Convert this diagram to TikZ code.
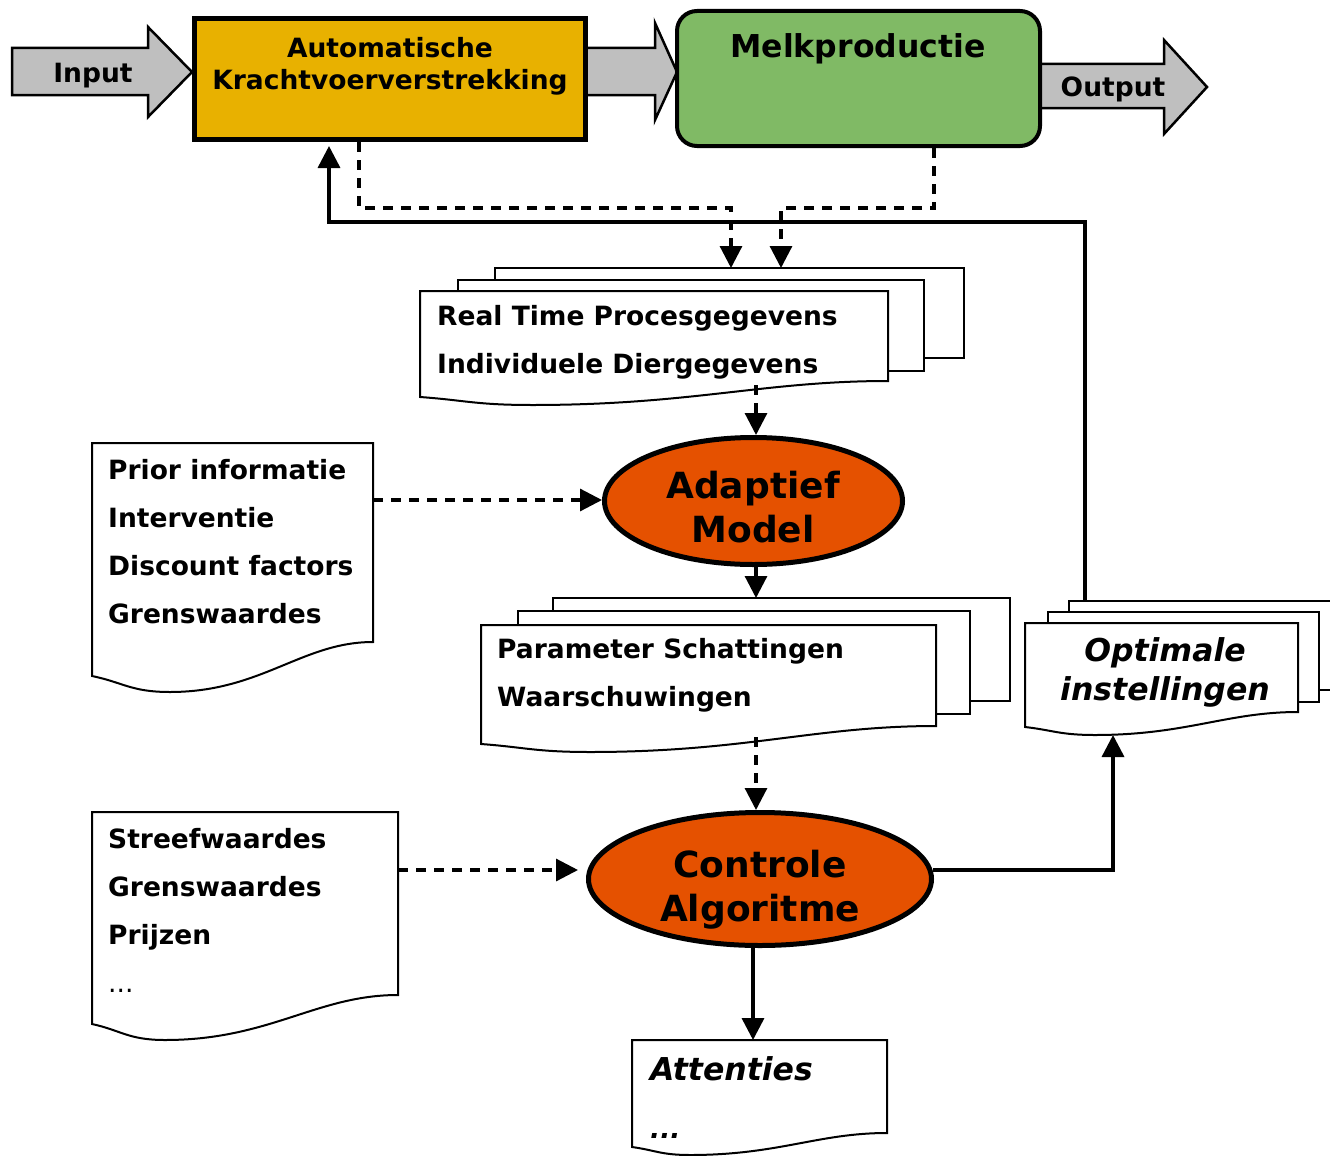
\documentclass[tikz,border=0pt]{standalone}
\usepackage{fontspec}
\setmainfont{DejaVu Sans}
\usetikzlibrary{arrows.meta,shapes.geometric,calc}
\definecolor{arrowgray}{HTML}{BFBFBF}
\definecolor{boxyellow}{HTML}{E8B100}
\definecolor{boxgreen}{HTML}{80BA65}
\definecolor{ellorange}{HTML}{E55100}
% x1 top x2 yl xm ym yr
\newcommand\docwave[7]{%
  \filldraw[docline] (#1,#2) -- (#3,#2) -- (#3,#7)
    .. controls ($(#3,#7)!0.35!(#5,#7)$) and ($(#5,#6)!0.45!(#3,#6)$) .. (#5,#6)
    .. controls ($(#5,#6)!0.5!(#1,#6)$) and ($(#1,#4)!0.4!(#5,#6)$) .. (#1,#4) -- cycle;}
\begin{document}
\begin{tikzpicture}[x=1pt,y=-1pt,
  docline/.style={draw=black, fill=white, line width=2pt},
  fatarrow/.style={draw=black, fill=arrowgray, line width=2.5pt, line join=miter},
  solidarrow/.style={line width=3.5pt, -{Triangle[length=22pt,width=22pt]}},
  dasharrow/.style={line width=3.2pt, dash pattern=on 10pt off 8pt, -{Triangle[length=22pt,width=22pt]}},
  body/.style={inner sep=0pt, font=\fontsize{26.5}{32}\selectfont\bfseries},
  mid/.style={inner sep=0pt, font=\fontsize{31.5}{38}\selectfont\bfseries},
  miditl/.style={inner sep=0pt, font=\fontsize{31.5}{38}\selectfont\bfseries\itshape},
  big/.style={inner sep=0pt, font=\fontsize{36}{44}\selectfont\bfseries},
  ell/.style={ellipse, draw=black, fill=ellorange, line width=5pt, inner sep=0pt}
]
\useasboundingbox[fill=white] (0,0) rectangle (1330,1156);

% fat arrows
\filldraw[fatarrow] (12,48) -- (148,48) -- (148,27) -- (192,72) -- (148,117) -- (148,95) -- (12,95) -- cycle;
\filldraw[fatarrow] (585,48) -- (655,48) -- (655,23) -- (677,72) -- (655,120) -- (655,95) -- (585,95) -- cycle;
\filldraw[fatarrow] (1038,64) -- (1164,64) -- (1164,40) -- (1207,87) -- (1164,134) -- (1164,108) -- (1038,108) -- cycle;

% boxes
\node[draw=black, fill=boxyellow, line width=5pt, minimum width=391pt, minimum height=121pt, inner sep=0pt] (ak) at (390,79) {};
\node[draw=black, fill=boxgreen, line width=4pt, rounded corners=20pt, minimum width=363pt, minimum height=135pt, inner sep=0pt] (mp) at (858.5,78.5) {};
\node[body, anchor=base] (tin) at (93,82) {Input};
\node[body, anchor=base] (tak1) at (390,57) {Automatische};
\node[body, anchor=base] (tak2) at (390,89) {Krachtvoerverstrekking};
\node[mid, anchor=base] (tmp) at (858,58) {Melkproductie};
\node[body, anchor=base] (tout) at (1113,96) {Output};

% document stack 1
\filldraw[docline] (495,268) rectangle (964,358);
\filldraw[docline] (458,280) rectangle (924,371);
\docwave{420}{291}{888}{397}{532}{405}{381}
\node[body, anchor=base west] (t11) at (437,325) {Real Time Procesgegevens};
\node[body, anchor=base west] (t12) at (437,373) {Individuele Diergegevens};
\coordinate (d1in1) at (731,268);
\coordinate (d1in2) at (781,268);
\coordinate (d1out) at (756,385);

% prior doc
\docwave{92}{443}{373}{676}{170}{692}{642}
\node[body, anchor=base west] (p1) at (108,479) {Prior informatie};
\node[body, anchor=base west] (p2) at (108,527) {Interventie};
\node[body, anchor=base west] (p3) at (108,575) {Discount factors};
\node[body, anchor=base west] (p4) at (108,623) {Grenswaardes};
\coordinate (prout) at (373,500);

% ellipse 1
\node[ell, minimum width=298pt, minimum height=127pt] (am) at (753.5,501) {};
\node[big, anchor=base] (ta1) at (753,498) {Adaptief};
\node[big, anchor=base] (ta2) at (753,542) {Model};

% document stack 2
\filldraw[docline] (553,598) rectangle (1010,701);
\filldraw[docline] (518,611) rectangle (970,714);
\docwave{481}{625}{936}{744}{590}{752}{726}
\node[body, anchor=base west] (t21) at (497,658) {Parameter Schattingen};
\node[body, anchor=base west] (t22) at (497,706) {Waarschuwingen};
\coordinate (d2in) at (756,598);
\coordinate (d2out) at (756,737);

% optimale stack
\filldraw[docline] (1069,601) rectangle (1345,690);
\filldraw[docline] (1048,612) rectangle (1319,702);
\docwave{1025}{623}{1298}{727}{1095}{735}{712}
\node[miditl, anchor=base] (o1) at (1165,661) {Optimale};
\node[miditl, anchor=base] (o2) at (1165,700) {instellingen};
\coordinate (opin) at (1113,735);
\coordinate (opout) at (1085,601);

% streef doc
\docwave{92}{812}{398}{1024}{165}{1040}{995}
\node[body, anchor=base west] (s1) at (108,848) {Streefwaardes};
\node[body, anchor=base west] (s2) at (108,896) {Grenswaardes};
\node[body, anchor=base west] (s3) at (108,944) {Prijzen};
\node[body, anchor=base west, font=\fontsize{26.5}{32}\selectfont] (s4) at (108,992) {...};
\coordinate (stout) at (398,870);

% ellipse 2
\node[ell, minimum width=343pt, minimum height=133pt] (ca) at (760,879) {};
\node[big, anchor=base] (tc1) at (760,877) {Controle};
\node[big, anchor=base] (tc2) at (760,921) {Algoritme};

% attenties doc
\docwave{632}{1040}{887}{1147}{690}{1155}{1133}
\node[miditl, anchor=base west] (a1) at (650,1080) {Attenties};
\node[body, font=\fontsize{26.5}{32}\selectfont\bfseries\itshape, anchor=base west] (a2) at (650,1138) {...};
\coordinate (atin) at (753,1040);

% connectors
\draw[dasharrow] ([xshift=-31pt]ak.south) |- (731,208) -- (d1in1);
\draw[dasharrow] ([xshift=75.5pt]mp.south) |- (781,208) -- (d1in2);
\draw[solidarrow] (opout) |- (329,222) -- ([xshift=-61pt,yshift=-4pt]ak.south);
\draw[dasharrow] (d1out) -- (d1out |- am.north);
\draw[dasharrow] (prout) -- (prout -| am.west);
\draw[dasharrow] (am.south -| d2in) -- (d2in);
\draw[dasharrow] (d2out) -- (d2out |- ca.north);
\draw[dasharrow] (stout) -- ([xshift=-8pt]stout -| ca.west);
\draw[solidarrow] ([xshift=-1pt]stout -| ca.east) -| (opin);
\draw[solidarrow] (ca.south -| atin) -- (atin);
\end{tikzpicture}
\end{document}
